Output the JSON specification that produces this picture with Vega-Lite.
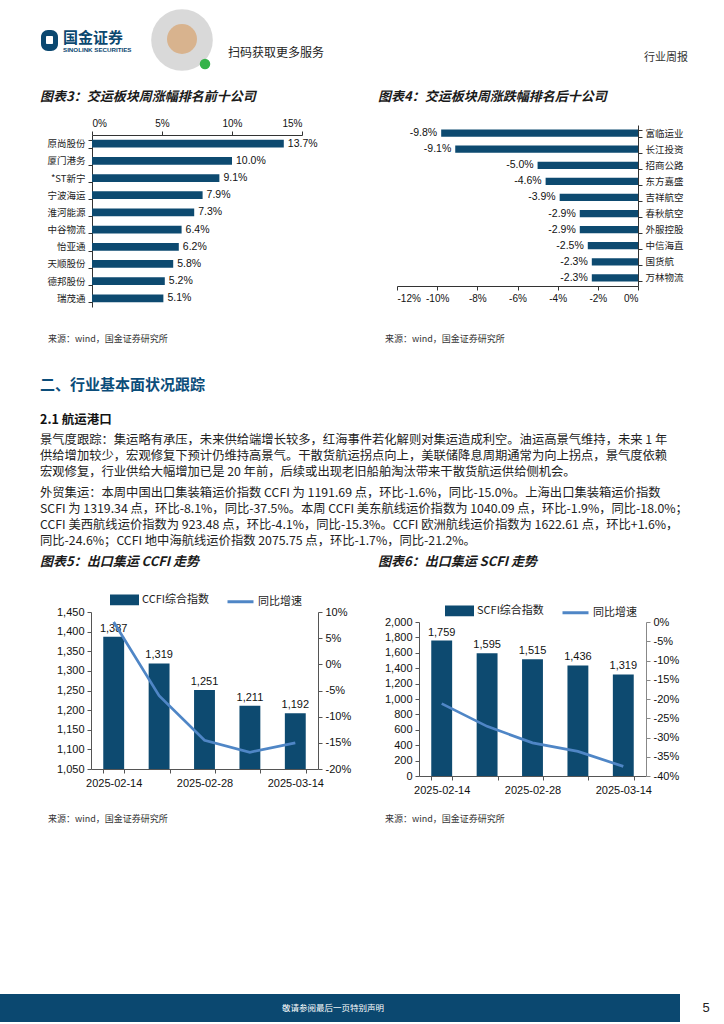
{
  "$schema": "https://vega.github.io/schema/vega-lite/v6.json",
  "width": 724,
  "height": 1024,
  "padding": 0,
  "autosize": {"type": "none"},
  "background": "#ffffff",
  "data": {"name": "one"},
  "datasets": {
    "one": [{"k": 1}],
    "top10": [
      {"name": "原尚股份", "pct": 0.137},
      {"name": "厦门港务", "pct": 0.100},
      {"name": "*ST新宁", "pct": 0.091},
      {"name": "宁波海运", "pct": 0.079},
      {"name": "淮河能源", "pct": 0.073},
      {"name": "中谷物流", "pct": 0.064},
      {"name": "怡亚通", "pct": 0.062},
      {"name": "天顺股份", "pct": 0.058},
      {"name": "德邦股份", "pct": 0.052},
      {"name": "瑞茂通", "pct": 0.051}
    ],
    "bottom10": [
      {"name": "富临运业", "pct": -0.098},
      {"name": "长江投资", "pct": -0.091},
      {"name": "招商公路", "pct": -0.050},
      {"name": "东方嘉盛", "pct": -0.046},
      {"name": "吉祥航空", "pct": -0.039},
      {"name": "春秋航空", "pct": -0.029},
      {"name": "外服控股", "pct": -0.029},
      {"name": "中信海直", "pct": -0.025},
      {"name": "国货航", "pct": -0.023},
      {"name": "万林物流", "pct": -0.023}
    ],
    "ccfi": [
      {"date": "2025-02-14", "idx": 1387, "yoy": 0.081},
      {"date": "2025-02-21", "idx": 1319, "yoy": -0.060},
      {"date": "2025-02-28", "idx": 1251, "yoy": -0.145},
      {"date": "2025-03-07", "idx": 1211, "yoy": -0.168},
      {"date": "2025-03-14", "idx": 1192, "yoy": -0.150}
    ],
    "scfi": [
      {"date": "2025-02-14", "idx": 1759, "yoy": -0.212},
      {"date": "2025-02-21", "idx": 1595, "yoy": -0.271},
      {"date": "2025-02-28", "idx": 1515, "yoy": -0.314},
      {"date": "2025-03-07", "idx": 1436, "yoy": -0.336},
      {"date": "2025-03-14", "idx": 1319, "yoy": -0.375}
    ]
  },
  "resolve": {
    "scale": {"x": "independent", "y": "independent", "color": "independent"},
    "axis": {"x": "independent", "y": "independent"},
    "legend": {"color": "independent"}
  },
  "layer": [
    {"mark": {"type": "rule", "x": 0, "x2": 724, "y": 69, "stroke": "#3a78a2", "strokeWidth": 2}, "encoding": {}},
    {"mark": {"type": "rect", "x": 41, "x2": 58, "y": 30, "y2": 51, "cornerRadius": 7, "fill": "#0b4870"}, "encoding": {}},
    {"mark": {"type": "rect", "x": 46, "x2": 53, "y": 36, "y2": 44, "cornerRadius": 1, "fill": "#ffffff"}, "encoding": {}},
    {"mark": {"type": "text", "x": 63, "y": 38, "text": "国金证券", "fontSize": 15, "fontWeight": "bold", "fill": "#0b4870", "align": "left", "baseline": "middle"}, "encoding": {}},
    {"mark": {"type": "text", "x": 63, "y": 49.5, "text": "SINOLINK SECURITIES", "fontSize": 6.2, "fontWeight": "bold", "fill": "#0b4870", "align": "left", "baseline": "middle", "font": "Liberation Sans"}, "encoding": {}},
    {"mark": {"type": "point", "shape": "circle", "filled": true, "x": 182, "y": 40, "size": 3800, "fill": "#a0a0a0", "opacity": 0.4}, "encoding": {}},
    {"mark": {"type": "point", "shape": "circle", "filled": true, "x": 182, "y": 39, "size": 900, "fill": "#d8b38e", "opacity": 1}, "encoding": {}},
    {"mark": {"type": "point", "shape": "circle", "filled": true, "x": 205, "y": 64, "size": 110, "fill": "#35b34a", "opacity": 1}, "encoding": {}},
    {"mark": {"type": "text", "x": 228, "y": 53, "text": "扫码获取更多服务", "fontSize": 12, "fill": "#222222", "align": "left", "baseline": "middle"}, "encoding": {}},
    {"mark": {"type": "text", "x": 688, "y": 58, "text": "行业周报", "fontSize": 11, "fill": "#333333", "align": "right", "baseline": "middle"}, "encoding": {}},
    {"mark": {"type": "text", "x": 40, "y": 97, "text": "图表3：交运板块周涨幅排名前十公司", "fontSize": 13, "fontWeight": "bold", "fontStyle": "italic", "fill": "#1a1a1a", "align": "left", "baseline": "middle"}, "encoding": {}},
    {"mark": {"type": "text", "x": 378, "y": 97, "text": "图表4：交运板块周涨跌幅排名后十公司", "fontSize": 13, "fontWeight": "bold", "fontStyle": "italic", "fill": "#1a1a1a", "align": "left", "baseline": "middle"}, "encoding": {}},
    {"mark": {"type": "rule", "x": 40, "x2": 356, "y": 107, "stroke": "#3a78a2", "strokeWidth": 1.5}, "encoding": {}},
    {"mark": {"type": "rule", "x": 378, "x2": 690, "y": 107, "stroke": "#3a78a2", "strokeWidth": 1.5}, "encoding": {}},

    {"mark": {"type": "rule", "x": 38, "x2": 694, "y": 329, "stroke": "#4a82ad", "strokeWidth": 1.8}, "encoding": {}},
    {"mark": {"type": "text", "x": 48, "y": 339, "text": "来源：wind，国金证券研究所", "fontSize": 9, "fill": "#333333", "align": "left", "baseline": "middle"}, "encoding": {}},
    {"mark": {"type": "text", "x": 385, "y": 339, "text": "来源：wind，国金证券研究所", "fontSize": 9, "fill": "#333333", "align": "left", "baseline": "middle"}, "encoding": {}},
    {"mark": {"type": "text", "x": 40, "y": 385, "text": "二、行业基本面状况跟踪", "fontSize": 15, "fontWeight": "bold", "fill": "#0b4d7a", "align": "left", "baseline": "middle"}, "encoding": {}},
    {"mark": {"type": "text", "x": 40, "y": 420, "text": "2.1 航运港口", "fontSize": 12.5, "fontWeight": "bold", "fill": "#111111", "align": "left", "baseline": "middle"}, "encoding": {}},
    {"mark": {"type": "text", "x": 40, "y": 434, "lineHeight": 16, "fontSize": 12.3, "fill": "#222222", "align": "left", "baseline": "top",
      "text": ["景气度跟踪：集运略有承压，未来供给端增长较多，红海事件若化解则对集运造成利空。油运高景气维持，未来 1 年",
               "供给增加较少，宏观修复下预计仍维持高景气。干散货航运拐点向上，美联储降息周期通常为向上拐点，景气度依赖",
               "宏观修复，行业供给大幅增加已是 20 年前，后续或出现老旧船舶淘汰带来干散货航运供给侧机会。"]}, "encoding": {}},
    {"mark": {"type": "text", "x": 40, "y": 487, "lineHeight": 16, "fontSize": 12.3, "fill": "#222222", "align": "left", "baseline": "top",
      "text": ["外贸集运：本周中国出口集装箱运价指数 CCFI 为 1191.69 点，环比-1.6%，同比-15.0%。上海出口集装箱运价指数",
               "SCFI 为 1319.34 点，环比-8.1%，同比-37.5%。本周 CCFI 美东航线运价指数为 1040.09 点，环比-1.9%，同比-18.0%；",
               "CCFI 美西航线运价指数为 923.48 点，环比-4.1%，同比-15.3%。CCFI 欧洲航线运价指数为 1622.61 点，环比+1.6%，",
               "同比-24.6%；CCFI 地中海航线运价指数 2075.75 点，环比-1.7%，同比-21.2%。"]}, "encoding": {}},
    {"mark": {"type": "text", "x": 40, "y": 562, "text": "图表5：出口集运 CCFI 走势", "fontSize": 13, "fontWeight": "bold", "fontStyle": "italic", "fill": "#1a1a1a", "align": "left", "baseline": "middle"}, "encoding": {}},
    {"mark": {"type": "text", "x": 378, "y": 562, "text": "图表6：出口集运 SCFI 走势", "fontSize": 13, "fontWeight": "bold", "fontStyle": "italic", "fill": "#1a1a1a", "align": "left", "baseline": "middle"}, "encoding": {}},
    {"mark": {"type": "rule", "x": 40, "x2": 356, "y": 572, "stroke": "#3a78a2", "strokeWidth": 1.5}, "encoding": {}},
    {"mark": {"type": "rule", "x": 378, "x2": 690, "y": 572, "stroke": "#3a78a2", "strokeWidth": 1.5}, "encoding": {}},

    {"mark": {"type": "rule", "x": 38, "x2": 694, "y": 803, "stroke": "#4a82ad", "strokeWidth": 1.8}, "encoding": {}},
    {"mark": {"type": "text", "x": 48, "y": 819, "text": "来源：wind，国金证券研究所", "fontSize": 9, "fill": "#333333", "align": "left", "baseline": "middle"}, "encoding": {}},
    {"mark": {"type": "text", "x": 385, "y": 819, "text": "来源：wind，国金证券研究所", "fontSize": 9, "fill": "#333333", "align": "left", "baseline": "middle"}, "encoding": {}},
    {"mark": {"type": "rect", "x": 0, "x2": 680, "y": 994, "y2": 1022, "fill": "#0b4870"}, "encoding": {}},
    {"mark": {"type": "text", "x": 333, "y": 1008, "text": "敬请参阅最后一页特别声明", "fontSize": 8.5, "fill": "#ffffff", "align": "center", "baseline": "middle"}, "encoding": {}},
    {"mark": {"type": "text", "x": 706, "y": 1008, "text": "5", "fontSize": 13, "font": "Liberation Sans", "fill": "#222222", "align": "center", "baseline": "middle"}, "encoding": {}},

    {
      "data": {"name": "top10"},
      "encoding": {
        "y": {"field": "name", "type": "nominal", "sort": null,
          "scale": {"range": [135, 307], "paddingInner": 0.55, "paddingOuter": 0.28},
          "axis": {"title": null, "orient": "left", "offset": -92, "tickBand": "extent", "tickSize": 4, "labelFont": "Noto Sans CJK SC", "labelFontSize": 9.5, "labelColor": "#222222", "labelPadding": 3, "domainColor": "#333333", "tickColor": "#333333"}},
        "x": {"field": "pct", "type": "quantitative",
          "scale": {"domain": [0, 0.15], "nice": false, "range": [92, 302]},
          "axis": {"title": null, "orient": "top", "offset": -135, "values": [0, 0.05, 0.1, 0.15], "format": ".0%", "grid": false, "tickSize": 4, "labelFont": "Liberation Sans", "labelFontSize": 10, "labelColor": "#111111", "labelPadding": 3, "domainColor": "#333333", "tickColor": "#333333"}}
      },
      "layer": [
        {"mark": {"type": "bar", "color": "#0d4a70"}},
        {"mark": {"type": "text", "align": "left", "baseline": "middle", "dx": 4, "font": "Liberation Sans", "fontSize": 10.5, "fill": "#111111"},
          "encoding": {"text": {"field": "pct", "type": "quantitative", "format": ".1%"}}}
      ]
    },
    {
      "data": {"name": "bottom10"},
      "encoding": {
        "y": {"field": "name", "type": "nominal", "sort": null,
          "scale": {"range": [125, 286], "paddingInner": 0.55, "paddingOuter": 0.28},
          "axis": {"title": null, "orient": "right", "offset": -86, "tickBand": "extent", "tickSize": 4, "labelFont": "Noto Sans CJK SC", "labelFontSize": 9.5, "labelColor": "#222222", "labelPadding": 3, "domainColor": "#333333", "tickColor": "#333333"}},
        "x": {"field": "pct", "type": "quantitative",
          "scale": {"domain": [-0.12, 0], "nice": false, "range": [397, 638]},
          "axis": {"title": null, "orient": "bottom", "offset": -738, "values": [-0.12, -0.1, -0.08, -0.06, -0.04, -0.02, 0], "format": ".0%", "grid": false, "tickSize": 4, "labelFont": "Liberation Sans", "labelFontSize": 10, "labelColor": "#111111", "labelPadding": 3, "domainColor": "#333333", "tickColor": "#333333"}}
      },
      "layer": [
        {"mark": {"type": "bar", "color": "#0d4a70"}},
        {"mark": {"type": "text", "align": "right", "baseline": "middle", "dx": -4, "font": "Liberation Sans", "fontSize": 10.5, "fill": "#111111"},
          "encoding": {"text": {"field": "pct", "type": "quantitative", "format": ".1%"}}}
      ]
    },
    {
      "data": {"name": "ccfi"},
      "encoding": {
        "x": {"field": "date", "type": "ordinal", "sort": null,
          "scale": {"range": [91, 318], "paddingInner": 0.54, "paddingOuter": 0.27},
          "axis": {"title": null, "orient": "bottom", "offset": -255, "labelAngle": 0, "tickBand": "extent", "tickSize": 4,
            "labelExpr": "datum.value == '2025-02-21' || datum.value == '2025-03-07' ? '' : datum.value",
            "labelFont": "Liberation Sans", "labelFontSize": 11, "labelColor": "#111111", "labelPadding": 4, "domainColor": "#555555", "tickColor": "#555555"}}
      },
      "layer": [
        {
          "encoding": {
            "y": {"field": "idx", "type": "quantitative",
              "scale": {"domain": [1050, 1450], "nice": false, "zero": false, "range": [769, 612]},
              "axis": {"title": null, "orient": "left", "offset": -91, "values": [1050, 1100, 1150, 1200, 1250, 1300, 1350, 1400, 1450], "format": ",.0f", "grid": false, "tickSize": 4, "labelFont": "Liberation Sans", "labelFontSize": 11, "labelColor": "#111111", "labelPadding": 3, "domainColor": "#555555", "tickColor": "#555555"}}
          },
          "layer": [
            {"mark": {"type": "bar"},
              "encoding": {
                "y2": {"datum": 1050},
                "color": {"datum": "CCFI综合指数",
                  "scale": {"domain": ["CCFI综合指数", "同比增速"], "range": ["#0d4a70", "#4f86c6"]},
                  "legend": {"title": null, "orient": "none", "legendX": 110, "legendY": 585, "direction": "horizontal",
                    "labelFont": "Noto Sans CJK SC", "labelFontSize": 11, "labelColor": "#222222", "symbolSize": 676,
                    "columnPadding": 12, "labelOffset": 3, "padding": 0,
                    "encode": {"symbols": {"update": {
                      "shape": {"signal": "datum.value === '同比增速' ? 'M-1,0H1' : 'M-1,-0.3H1V0.3H-1Z'"},
                      "fill": {"signal": "datum.value === '同比增速' ? 'transparent' : '#0d4a70'"},
                      "stroke": {"signal": "datum.value === '同比增速' ? '#4f86c6' : 'transparent'"},
                      "strokeWidth": {"value": 3},
                      "opacity": {"value": 1}
                    }}}}}}},
            {"mark": {"type": "text", "baseline": "bottom", "dy": -3, "font": "Liberation Sans", "fontSize": 11, "fill": "#111111"},
              "encoding": {"text": {"field": "idx", "type": "quantitative", "format": ","}}}
          ]
        },
        {"mark": {"type": "line", "strokeWidth": 2.7},
          "encoding": {
            "y": {"field": "yoy", "type": "quantitative",
              "scale": {"domain": [-0.2, 0.1], "nice": false, "zero": false, "range": [769, 612]},
              "axis": {"title": null, "orient": "right", "offset": -406, "values": [-0.2, -0.15, -0.1, -0.05, 0, 0.05, 0.1], "format": ".0%", "grid": false, "tickSize": 4, "labelFont": "Liberation Sans", "labelFontSize": 11, "labelColor": "#111111", "labelPadding": 3, "domainColor": "#555555", "tickColor": "#555555"}},
            "color": {"datum": "同比增速"}
          }}
      ],
      "resolve": {"scale": {"y": "independent"}, "axis": {"y": "independent"}}
    },
    {
      "data": {"name": "scfi"},
      "encoding": {
        "x": {"field": "date", "type": "ordinal", "sort": null,
          "scale": {"range": [419, 646], "paddingInner": 0.54, "paddingOuter": 0.27},
          "axis": {"title": null, "orient": "bottom", "offset": -248, "labelAngle": 0, "tickBand": "extent", "tickSize": 4,
            "labelExpr": "datum.value == '2025-02-21' || datum.value == '2025-03-07' ? '' : datum.value",
            "labelFont": "Liberation Sans", "labelFontSize": 11, "labelColor": "#111111", "labelPadding": 4, "domainColor": "#555555", "tickColor": "#555555"}}
      },
      "layer": [
        {
          "encoding": {
            "y": {"field": "idx", "type": "quantitative",
              "scale": {"domain": [0, 2000], "nice": false, "range": [776, 622]},
              "axis": {"title": null, "orient": "left", "offset": -419, "values": [0, 200, 400, 600, 800, 1000, 1200, 1400, 1600, 1800, 2000], "format": ",.0f", "grid": false, "tickSize": 4, "labelFont": "Liberation Sans", "labelFontSize": 11, "labelColor": "#111111", "labelPadding": 3, "domainColor": "#555555", "tickColor": "#555555"}}
          },
          "layer": [
            {"mark": {"type": "bar"},
              "encoding": {"color": {"datum": "SCFI综合指数",
                "scale": {"domain": ["SCFI综合指数", "同比增速"], "range": ["#0d4a70", "#4f86c6"]},
                "legend": {"title": null, "orient": "none", "legendX": 445, "legendY": 596, "direction": "horizontal",
                  "labelFont": "Noto Sans CJK SC", "labelFontSize": 11, "labelColor": "#222222", "symbolSize": 676,
                  "columnPadding": 12, "labelOffset": 3, "padding": 0,
                  "encode": {"symbols": {"update": {
                    "shape": {"signal": "datum.value === '同比增速' ? 'M-1,0H1' : 'M-1,-0.3H1V0.3H-1Z'"},
                    "fill": {"signal": "datum.value === '同比增速' ? 'transparent' : '#0d4a70'"},
                    "stroke": {"signal": "datum.value === '同比增速' ? '#4f86c6' : 'transparent'"},
                    "strokeWidth": {"value": 3},
                    "opacity": {"value": 1}
                  }}}}}}},
            {"mark": {"type": "text", "baseline": "bottom", "dy": -3, "font": "Liberation Sans", "fontSize": 11, "fill": "#111111"},
              "encoding": {"text": {"field": "idx", "type": "quantitative", "format": ","}}}
          ]
        },
        {"mark": {"type": "line", "strokeWidth": 2.7},
          "encoding": {
            "y": {"field": "yoy", "type": "quantitative",
              "scale": {"domain": [-0.4, 0], "nice": false, "zero": false, "range": [776, 622]},
              "axis": {"title": null, "orient": "right", "offset": -78, "values": [-0.4, -0.35, -0.3, -0.25, -0.2, -0.15, -0.1, -0.05, 0], "format": ".0%", "grid": false, "tickSize": 4, "labelFont": "Liberation Sans", "labelFontSize": 11, "labelColor": "#111111", "labelPadding": 3, "domainColor": "#888888", "tickColor": "#888888"}},
            "color": {"datum": "同比增速"}
          }}
      ],
      "resolve": {"scale": {"y": "independent"}, "axis": {"y": "independent"}}
    }
  ],
  "config": {
    "view": {"stroke": null},
    "font": "Noto Sans CJK SC",
    "axis": {"grid": false},
    "locale": {"number": {"decimal": ".", "thousands": ",", "grouping": [3], "currency": ["", ""], "minus": "-"}}
  }
}
